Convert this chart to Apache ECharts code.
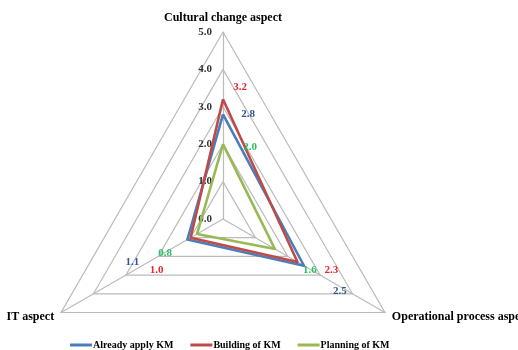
<!DOCTYPE html>
<html>
<head>
<meta charset="utf-8">
<script src="https://cdn.jsdelivr.net/npm/echarts@6/dist/echarts.min.js"></script>
<style>
  html, body { margin: 0; padding: 0; background: #ffffff; }
  #chart { width: 518px; height: 350px; }
</style>
</head>
<body>
<div id="chart"></div>
<script>
// Indicators, in drawing order (top, lower-left, lower-right)
const indicators = ['Cultural change aspect', 'IT aspect', 'Operational process aspect'];
const seriesNames = ['Already apply KM', 'Building of KM', 'Planning of KM'];

// Scores per indicator
const alreadyApply = [2.8, 1.1, 2.5];
const building = [3.2, 1.0, 2.3];
const planning = [2.0, 0.8, 1.6];

const axisMax = 5;
const axisSplits = 5;

const lineColors = ['#4A7EBB', '#BE4B48', '#98B954'];
const labelColors = ['#2F5597', '#E8262B', '#2DBE63'];

// Label nudges (px) away from each vertex, per series and indicator
const labelNudge = [
  [[25, 0], [-55, 23], [36, 25]],
  [[17, -12], [-34, 32], [34, 8]],
  [[27, 3], [-32, 19], [35, 21]]
];

const serif = '"Liberation Serif", "Times New Roman", serif';
const values = [alreadyApply, building, planning];

const chart = echarts.init(document.getElementById('chart'), null, { renderer: 'canvas' });

const option = {
  animation: false,
  backgroundColor: '#ffffff',
  legend: {
    left: 65,
    top: 335,
    icon: 'rect',
    itemWidth: 22,
    itemHeight: 3,
    itemGap: 17,
    textStyle: {
      fontFamily: serif, fontWeight: 'bold', fontSize: 10, color: '#000',
      padding: [0, 0, 0, -4]
    },
    data: seriesNames
  },
  radar: {
    center: [223, 219],
    radius: 187,
    shape: 'polygon',
    splitNumber: axisSplits,
    startAngle: 90,
    axisName: {
      color: '#000',
      fontFamily: serif,
      fontWeight: 'bold',
      fontSize: 12
    },
    nameGap: 8,
    indicator: indicators.map((name, i) => ({
      name: name,
      min: 0,
      max: axisMax,
      axisLabel: i === 0 ? {
        show: true,
        color: '#333',
        fontFamily: serif,
        fontWeight: 'bold',
        fontSize: 11,
        padding: [0, 3, 0, 0],
        formatter: v => Number(v).toFixed(1)
      } : { show: false }
    })),
    axisLine: { lineStyle: { color: '#BBBBBB', width: 1.2 } },
    axisTick: { show: false },
    axisLabel: { show: false },
    splitLine: { lineStyle: { color: '#BBBBBB', width: 1.2 } },
    splitArea: { show: false }
  },
  series: seriesNames.map((name, s) => ({
    type: 'radar',
    name: name,
    color: lineColors[s],
    symbol: 'circle',
    symbolSize: 1,
    lineStyle: { color: lineColors[s], width: 2.6 },
    itemStyle: { color: lineColors[s] },
    label: {
      show: true,
      position: 'inside',
      color: labelColors[s],
      fontFamily: serif,
      fontWeight: 'bold',
      fontSize: 11,
      formatter: p => Number(p.value).toFixed(1)
    },
    labelLayout: p => {
      const k = values[s].findIndex(v => v.toFixed(1) === p.text);
      const d = labelNudge[s][k < 0 ? 0 : k];
      return { dx: d[0], dy: d[1] };
    },
    data: [{ name: name, value: values[s] }]
  }))
};

chart.setOption(option);
</script>
</body>
</html>
